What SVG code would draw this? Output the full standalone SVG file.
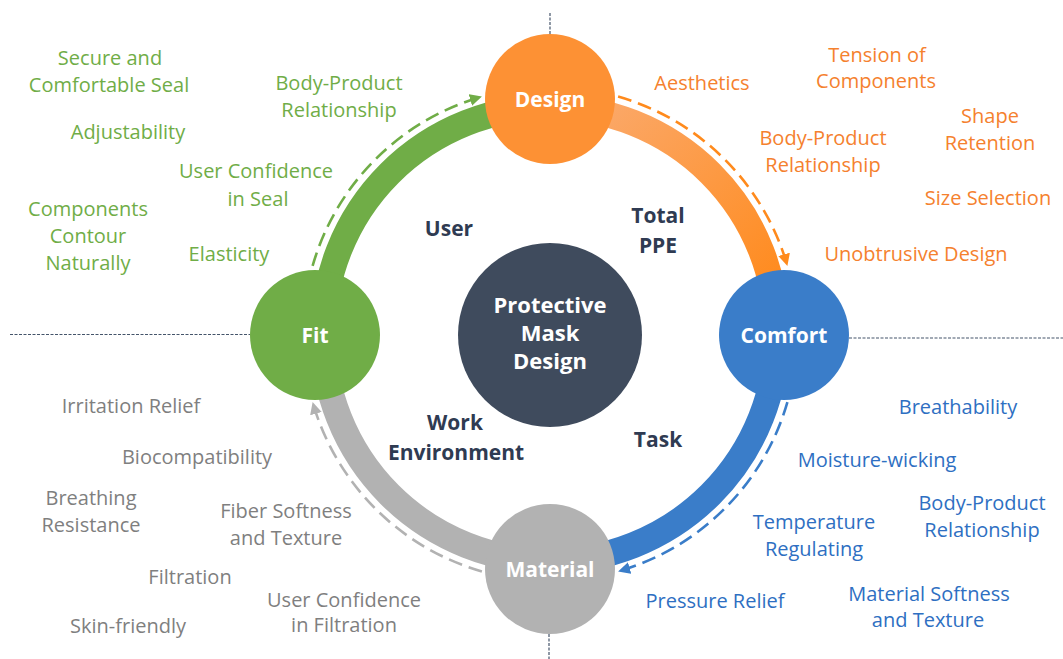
<svg xmlns="http://www.w3.org/2000/svg" width="1063" height="659" viewBox="0 0 1063 659">
<style>
text{font-family:"Open Sans","Liberation Sans",sans-serif;font-size:20px;text-anchor:middle}
.g{fill:#70AD47}.o{fill:#F5812E}.b{fill:#2E6FC2}.s{fill:#7F7F7F}
.in{fill:#2F3B52;font-weight:bold;font-size:21px}
.nl{fill:#FFFFFF;font-weight:bold;font-size:21px}
.cl{fill:#FFFFFF;font-weight:bold;font-size:22px}
.axis{stroke:#44546A;stroke-width:1.2;stroke-dasharray:3 1.5;fill:none}
.band{fill:none;stroke-width:26}
.dash{fill:none;stroke-width:2.6;stroke-dasharray:14 7}
</style>
<defs>
<linearGradient id="og" gradientUnits="userSpaceOnUse" x1="600" y1="110" x2="770" y2="300">
<stop offset="0" stop-color="#FBA868"/><stop offset="1" stop-color="#FF8A1C"/>
</linearGradient>
<marker id="ag" markerUnits="userSpaceOnUse" markerWidth="14" markerHeight="12" refX="12" refY="6" orient="auto"><path d="M0,0 L12,6 L0,12 Z" fill="#70AD47"/></marker>
<marker id="ao" markerUnits="userSpaceOnUse" markerWidth="14" markerHeight="12" refX="12" refY="6" orient="auto"><path d="M0,0 L12,6 L0,12 Z" fill="#FF8A1C"/></marker>
<marker id="ab" markerUnits="userSpaceOnUse" markerWidth="14" markerHeight="12" refX="12" refY="6" orient="auto"><path d="M0,0 L12,6 L0,12 Z" fill="#3A7DC9"/></marker>
<marker id="as" markerUnits="userSpaceOnUse" markerWidth="14" markerHeight="12" refX="12" refY="6" orient="auto"><path d="M0,0 L12,6 L0,12 Z" fill="#B2B2B2"/></marker>
</defs>
<rect width="1063" height="659" fill="#FFFFFF"/>
<g id="axes">
<line class="axis" x1="550" y1="13" x2="550" y2="34"/>
<line class="axis" x1="549" y1="634" x2="549" y2="659"/>
<line class="axis" x1="10" y1="334.5" x2="250" y2="334.5"/>
<line class="axis" x1="849" y1="338" x2="1063" y2="338"/>
</g>
<g id="connectors">
<path class="band" stroke="#70AD47" d="M323,334 A227,227 0 0 1 550,107"/>
<path class="band" stroke="url(#og)" d="M550,107 A227,227 0 0 1 777,334"/>
<path class="band" stroke="#3A7DC9" d="M777,334 A227,227 0 0 1 550,561"/>
<path class="band" stroke="#B2B2B2" d="M550,561 A227,227 0 0 1 323,334"/>
<path class="dash" stroke="#70AD47" marker-end="url(#ag)" d="M312.6,265.9 A247,247 0 0 1 481.9,96.6"/>
<path class="dash" stroke="#FF8A1C" marker-end="url(#ao)" d="M618.1,96.6 A247,247 0 0 1 787.4,265.9"/>
<path class="dash" stroke="#3A7DC9" marker-end="url(#ab)" d="M787.4,402.1 A247,247 0 0 1 618.1,571.4"/>
<path class="dash" stroke="#B2B2B2" marker-end="url(#as)" d="M481.9,571.4 A247,247 0 0 1 312.6,402.1"/>
</g>
<g id="center">
<circle cx="550" cy="335" r="92" fill="#3F4B5D"/>
<text class="cl" x="550" y="313">Protective</text>
<text class="cl" x="550" y="341">Mask</text>
<text class="cl" x="550" y="369">Design</text>
</g>
<g id="design">
<circle cx="550" cy="99" r="65" fill="#FD9134"/>
<text class="nl" x="550" y="107">Design</text>
</g>
<g id="comfort">
<circle cx="784" cy="335" r="65" fill="#3A7DC9"/>
<text class="nl" x="784" y="343">Comfort</text>
</g>
<g id="material">
<circle cx="550" cy="569" r="65" fill="#B2B2B2"/>
<text class="nl" x="550" y="577">Material</text>
</g>
<g id="fit">
<circle cx="315" cy="335" r="65" fill="#70AD47"/>
<text class="nl" x="315" y="343">Fit</text>
</g>
<g id="inner-labels">
<text class="in" x="449" y="236">User</text>
<text class="in" x="658" y="223">Total</text>
<text class="in" x="658" y="253">PPE</text>
<text class="in" x="455" y="430">Work</text>
<text class="in" x="456" y="460">Environment</text>
<text class="in" x="658" y="447">Task</text>
</g>
<g id="fit-labels">
<text class="g" x="110" y="65">Secure and</text>
<text class="g" x="109" y="92">Comfortable Seal</text>
<text class="g" x="128" y="139">Adjustability</text>
<text class="g" x="339" y="90">Body-Product</text>
<text class="g" x="339" y="117">Relationship</text>
<text class="g" x="256" y="178">User Confidence</text>
<text class="g" x="258" y="206">in Seal</text>
<text class="g" x="88" y="216">Components</text>
<text class="g" x="88" y="243">Contour</text>
<text class="g" x="88" y="270">Naturally</text>
<text class="g" x="229" y="261">Elasticity</text>
</g>
<g id="design-labels">
<text class="o" x="702" y="90">Aesthetics</text>
<text class="o" x="877" y="62">Tension of</text>
<text class="o" x="876" y="88">Components</text>
<text class="o" x="990" y="123">Shape</text>
<text class="o" x="990" y="150">Retention</text>
<text class="o" x="823" y="145">Body-Product</text>
<text class="o" x="823" y="172">Relationship</text>
<text class="o" x="988" y="205">Size Selection</text>
<text class="o" x="916" y="261">Unobtrusive Design</text>
</g>
<g id="material-labels">
<text class="s" x="131" y="413">Irritation Relief</text>
<text class="s" x="197" y="464">Biocompatibility</text>
<text class="s" x="91" y="505">Breathing</text>
<text class="s" x="91" y="532">Resistance</text>
<text class="s" x="286" y="518">Fiber Softness</text>
<text class="s" x="286" y="545">and Texture</text>
<text class="s" x="190" y="584">Filtration</text>
<text class="s" x="344" y="607">User Confidence</text>
<text class="s" x="344" y="632">in Filtration</text>
<text class="s" x="128" y="633">Skin-friendly</text>
</g>
<g id="comfort-labels">
<text class="b" x="958" y="414">Breathability</text>
<text class="b" x="877" y="467">Moisture-wicking</text>
<text class="b" x="982" y="510">Body-Product</text>
<text class="b" x="982" y="537">Relationship</text>
<text class="b" x="814" y="529">Temperature</text>
<text class="b" x="814" y="556">Regulating</text>
<text class="b" x="715" y="608">Pressure Relief</text>
<text class="b" x="929" y="601">Material Softness</text>
<text class="b" x="928" y="627">and Texture</text>
</g>
</svg>
